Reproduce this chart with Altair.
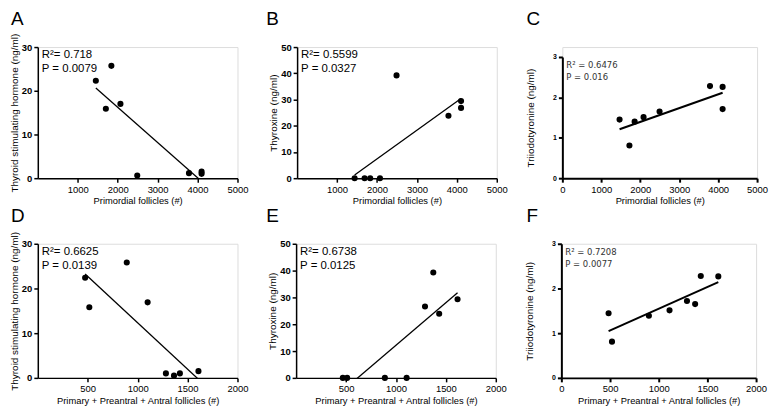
import altair as alt
import pandas as pd

FONT = "Liberation Sans"

# ---- data ----
primordial_a = [1453, 1704, 1842, 2069, 2490, 3785, 4101, 4101]
tsh_a = [22.3, 15.9, 25.7, 17.0, 0.6, 1.15, 1.5, 1.0]

primordial_b = [1440, 1690, 1830, 2075, 2490, 3790, 4105, 4105]
t4_b = [0, 0, 0, 0, 39.2, 23.8, 29.4, 26.8]

primordial_c = [1469, 1722, 1856, 2085, 2496, 3791, 4115, 4115]
t3_c = [1.45, 0.81, 1.40, 1.51, 1.65, 2.28, 2.26, 1.71]

growing_d = [474, 516, 891, 1100, 1283, 1364, 1423, 1609]
tsh_d = [22.4, 15.8, 25.8, 16.9, 1.0, 0.5, 1.0, 1.5]

growing_e = [468, 511, 889, 1107, 1291, 1374, 1433, 1617]
t4_e = [0, 0, 0, 0, 26.6, 39.3, 23.9, 29.3]

growing_f = [485, 520, 899, 1111, 1290, 1374, 1432, 1612]
t3_f = [1.445, 0.81, 1.39, 1.51, 1.72, 1.65, 2.28, 2.27]

letters = ["A", "B", "C", "D", "E", "F"]
stats_text = [
    ["R\u00b2= 0.718", "P = 0.0079"],
    ["R\u00b2= 0.5599", "P = 0.0327"],
    ["R\u00b2 = 0.6476", "P = 0.016"],
    ["R\u00b2= 0.6625", "P = 0.0139"],
    ["R\u00b2= 0.6738", "P = 0.0125"],
    ["R\u00b2 = 0.7208", "P = 0.0077"],
]
x_title_top = "Primordial follicles (#)"
x_title_bottom = "Primary + Preantral + Antral follicles (#)"
y_tsh = "Thyroid stimulating hormone (ng/ml)"
y_t4 = "Thyroxine (ng/ml)"
y_t3 = "Triiodotyronine (ng/ml)"

x_ticks_top = [1000, 2000, 3000, 4000, 5000]
x_ticks_top_c = [0, 1000, 2000, 3000, 4000, 5000]
x_ticks_bottom = [500, 1000, 1500, 2000]
x_ticks_bottom_f = [0, 500, 1000, 1500, 2000]
y_ticks_tsh = [0, 10, 20, 30]
y_ticks_t4 = [0, 10, 20, 30, 40, 50]
y_ticks_t3 = [0, 1, 2, 3]


def panel(letter, xs, ys, xdom, xticks, ydom, yticks, xtitle, ytitle, stats,
          small, w, h, letter_dx, top_gap=0):
    df = pd.DataFrame({"x": xs, "y": ys})
    lw = 2.0 if small else 1.5
    xaxis = alt.Axis(values=xticks, title=xtitle, grid=False, tickSize=4,
                     labelPadding=2, labelFont=FONT, labelFontSize=9.5,
                     labelFontWeight="normal", labelColor="black", format="d",
                     titleFont=FONT, titleFontSize=9.4, titleFontWeight="normal",
                     titleColor="black", titlePadding=3, domainColor="black",
                     tickColor="black", domainWidth=lw, tickWidth=lw,
                     labelFlush=False, labelOverlap=False)
    yaxis = alt.Axis(values=yticks, title=ytitle, grid=False, tickSize=4,
                     labelPadding=2, labelFont=FONT,
                     labelFontSize=7 if small else 9.5,
                     labelFontWeight="bold", labelColor="black", format="d",
                     titleFont=FONT, titleFontSize=10, titleFontWeight="normal",
                     titleColor="black", titlePadding=17 if small else 2,
                     domainColor="black", tickColor="black", domainWidth=lw,
                     tickWidth=lw, labelOverlap=False)
    xs_ = alt.Scale(domain=xdom, nice=False, zero=False)
    ys_ = alt.Scale(domain=ydom, nice=False, zero=False, range=[h, top_gap])
    xenc = alt.X("x:Q", scale=xs_, axis=xaxis)
    yenc = alt.Y("y:Q", scale=ys_, axis=yaxis)
    base = alt.Chart(df)
    pts = base.mark_circle(size=38, color="black", opacity=1).encode(
        x=xenc, y=yenc)
    line = base.transform_regression("x", "y").mark_line(
        color="black", strokeWidth=2.0 if small else 1.3, clip=True
    ).encode(x=xenc, y=yenc)
    one = alt.Data(values=[{}])
    txt = alt.Chart(one).mark_text(
        align="left", baseline="top",
        font="DejaVu Sans" if small else FONT,
        fontSize=8.5 if small else 11.5,
        lineHeight=12 if small else 14, color="#333" if small else "black",
    ).encode(x=alt.value(4), y=alt.value(top_gap + (4 if small else 2)),
             text=alt.value(stats))
    tag = alt.Chart(one).mark_text(
        align="left", baseline="alphabetic", font=FONT, fontSize=19,
        color="black",
    ).encode(x=alt.value(letter_dx), y=alt.value(-22), text=alt.value(letter))
    return alt.layer(pts, line, txt, tag).properties(width=w, height=h)


H1, H2 = 132, 135
A = panel(letters[0], primordial_a, tsh_a, [0, 5000], x_ticks_top, [0, 30],
          y_ticks_tsh, x_title_top, y_tsh, stats_text[0], False, 201, H1, -27)
B = panel(letters[1], primordial_b, t4_b, [0, 5000], x_ticks_top, [0, 50],
          y_ticks_t4, x_title_top, y_t4, stats_text[1], False, 201, H1, -31)
C = panel(letters[2], primordial_c, t3_c, [0, 5000], x_ticks_top_c, [0, 3],
          y_ticks_t3, x_title_top, y_t3, stats_text[2], True, 196, H1, -36,
          top_gap=10)
D = panel(letters[3], growing_d, tsh_d, [0, 2000], x_ticks_bottom, [0, 30],
          y_ticks_tsh, x_title_bottom, y_tsh, stats_text[3], False, 201, H2, -27)
E = panel(letters[4], growing_e, t4_e, [0, 2000], x_ticks_bottom, [0, 50],
          y_ticks_t4, x_title_bottom, y_t4, stats_text[4], False, 201, H2, -30)
F = panel(letters[5], growing_f, t3_f, [0, 2000], x_ticks_bottom_f, [0, 3],
          y_ticks_t3, x_title_bottom, y_t3, stats_text[5], True, 196, H2, -35)

row1 = alt.hconcat(A, B, C, spacing=16)
row2 = alt.hconcat(D, E, F, spacing=16)
chart = alt.vconcat(row1, row2, spacing=0).properties(padding=0).configure_view(
    stroke=None
).configure(font=FONT)

chart.save("out.html", embed_options={"renderer": "svg", "actions": False})
